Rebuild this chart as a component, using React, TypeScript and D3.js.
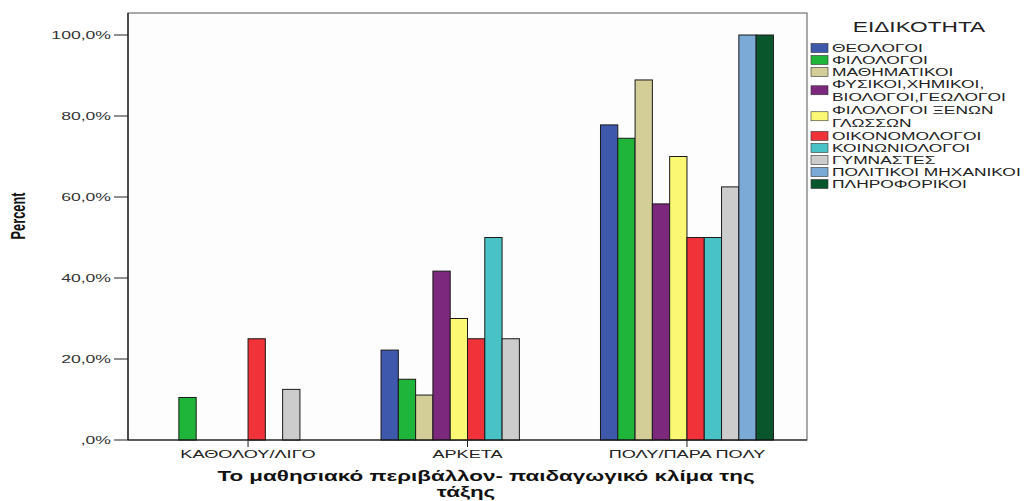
import React from 'react';
import * as d3 from 'd3';

const categories = ['ΚΑΘΟΛΟΥ/ΛΙΓΟ', 'ΑΡΚΕΤΑ', 'ΠΟΛΥ/ΠΑΡΑ ΠΟΛΥ'];

const seriesNames: string[][] = [
  ['ΘΕΟΛΟΓΟΙ'],
  ['ΦΙΛΟΛΟΓΟΙ'],
  ['ΜΑΘΗΜΑΤΙΚΟΙ'],
  ['ΦΥΣΙΚΟΙ,ΧΗΜΙΚΟΙ,', 'ΒΙΟΛΟΓΟΙ,ΓΕΩΛΟΓΟΙ'],
  ['ΦΙΛΟΛΟΓΟΙ ΞΕΝΩΝ', 'ΓΛΩΣΣΩΝ'],
  ['ΟΙΚΟΝΟΜΟΛΟΓΟΙ'],
  ['ΚΟΙΝΩΝΙΟΛΟΓΟΙ'],
  ['ΓΥΜΝΑΣΤΕΣ'],
  ['ΠΟΛΙΤΙΚΟΙ ΜΗΧΑΝΙΚΟΙ'],
  ['ΠΛΗΡΟΦΟΡΙΚΟΙ'],
];

const seriesColors = [
  '#3E58AC', '#1EB53A', '#D3CE97', '#7C287D', '#FBF873',
  '#EF3338', '#48C2C5', '#CCCCCC', '#7AAAD5', '#0A562C',
];

// percent per category (ΚΑΘΟΛΟΥ/ΛΙΓΟ, ΑΡΚΕΤΑ, ΠΟΛΥ/ΠΑΡΑ ΠΟΛΥ); null = no bar
const theologoi = [null, 22.2, 77.8];
const filologoi = [10.5, 15.0, 74.5];
const mathimatikoi = [null, 11.1, 88.9];
const fysikoi = [null, 41.7, 58.3];
const xenonGlosson = [null, 30.0, 70.0];
const oikonomologoi = [25.0, 25.0, 50.0];
const koinoniologoi = [null, 50.0, 50.0];
const gymnastes = [12.5, 25.0, 62.5];
const politikoiMichanikoi = [null, null, 100.0];
const pliroforikoi = [null, null, 100.0];

const seriesValues: (number | null)[][] = [
  theologoi, filologoi, mathimatikoi, fysikoi, xenonGlosson,
  oikonomologoi, koinoniologoi, gymnastes, politikoiMichanikoi, pliroforikoi,
];

const yTicks = [0, 20, 40, 60, 80, 100];

const FONT = 'Liberation Sans, Arial, sans-serif';

function SText(props: {
  x: number; y: number; sx: number; anchor?: string; size: number;
  weight?: string | number; fill?: string; rotate?: number; children: React.ReactNode;
}) {
  const { x, y, sx, anchor = 'start', size, weight = 'normal', fill = '#222', rotate = 0, children } = props;
  return (
    <text
      transform={`translate(${x},${y}) rotate(${rotate}) scale(${sx},1)`}
      textAnchor={anchor}
      fontSize={size}
      fontFamily={FONT}
      fontWeight={weight}
      fill={fill}
    >
      {children}
    </text>
  );
}

export default function App() {
  const W = 1027, H = 501;
  const left = 128, right = 807, top = 13, bottom = 440;

  const x0 = d3.scaleBand<string>()
    .domain(categories)
    .range([left, right])
    .paddingInner(0.212)
    .paddingOuter(0.153);
  const x1 = d3.scaleBand<number>()
    .domain(d3.range(seriesNames.length))
    .range([0, x0.bandwidth()])
    .padding(0);
  const y = d3.scaleLinear().domain([0, 100]).range([bottom, 35]);

  // legend layout
  const legendItems: { lines: string[]; baselines: number[]; color: string }[] = [];
  let b = 52;
  seriesNames.forEach((lines, i) => {
    const baselines = lines.map((_, j) => b + j * 12.5);
    legendItems.push({ lines, baselines, color: seriesColors[i] });
    b = baselines[baselines.length - 1] + (lines.length > 1 ? 13.5 : 12);
  });

  return (
    <svg width={W} height={H} style={{ position: 'absolute', left: 0, top: 0, background: '#fff' }}>
      <rect x={0} y={0} width={W} height={H} fill="#ffffff" />
      {/* plot frame */}
      <rect x={left} y={top} width={right - left} height={bottom - top} fill="#fdfdfd" stroke="#555" strokeWidth={1} />

      {/* bars */}
      {categories.map((c, ci) => (
        <g key={c} transform={`translate(${x0(c)},0)`}>
          {seriesValues.map((vals, si) => {
            const v = vals[ci];
            if (v == null) return null;
            return (
              <rect
                key={si}
                x={x1(si)!}
                y={y(v)}
                width={x1.bandwidth()}
                height={bottom - y(v)}
                fill={seriesColors[si]}
                stroke="#1a1a1a"
                strokeWidth={1}
              />
            );
          })}
        </g>
      ))}

      {/* axes */}
      <line x1={left} x2={left} y1={top} y2={bottom} stroke="#111" strokeWidth={1.2} />
      <line x1={left} x2={right} y1={bottom} y2={bottom} stroke="#111" strokeWidth={1.2} />

      {yTicks.map((t) => (
        <g key={t}>
          <line x1={left - 14} x2={left} y1={y(t)} y2={y(t)} stroke="#222" strokeWidth={1} />
          <SText x={left - 17} y={y(t) + 4} sx={1.6} anchor="end" size={11} fill="#333">
            {t === 0 ? ',0%' : `${t},0%`}
          </SText>
        </g>
      ))}

      {categories.map((c) => {
        const cx = x0(c)! + x0.bandwidth() / 2;
        return (
          <g key={c}>
            <line x1={cx} x2={cx} y1={bottom} y2={bottom + 7} stroke="#222" strokeWidth={1} />
            <SText x={cx} y={458} sx={1.65} anchor="middle" size={11} fill="#222">{c}</SText>
          </g>
        );
      })}

      {/* axis titles */}
      <SText x={25} y={216} sx={0.64} rotate={-90} anchor="middle" size={20} weight="bold" fill="#111">
        Percent
      </SText>
      <SText x={486} y={481} sx={1.6} anchor="middle" size={14} weight="bold" fill="#111">
        Το μαθησιακό περιβάλλον- παιδαγωγικό κλίμα της
      </SText>
      <SText x={466} y={497} sx={1.6} anchor="middle" size={14} weight="bold" fill="#111">
        τάξης
      </SText>

      {/* legend */}
      <SText x={919} y={32} sx={1.62} anchor="middle" size={14} fill="#222">ΕΙΔΙΚΟΤΗΤΑ</SText>
      {legendItems.map((it, i) => {
        const first = it.baselines[0];
        const last = it.baselines[it.baselines.length - 1];
        const cy = (first + last) / 2 - 4;
        return (
          <g key={i}>
            <rect x={811} y={cy - 4.5} width={17} height={9} fill={it.color} stroke="#333" strokeWidth={0.6} />
            {it.lines.map((ln, j) => (
              <SText key={j} x={832} y={it.baselines[j]} sx={1.58} size={11} fill="#222">{ln}</SText>
            ))}
          </g>
        );
      })}
    </svg>
  );
}
